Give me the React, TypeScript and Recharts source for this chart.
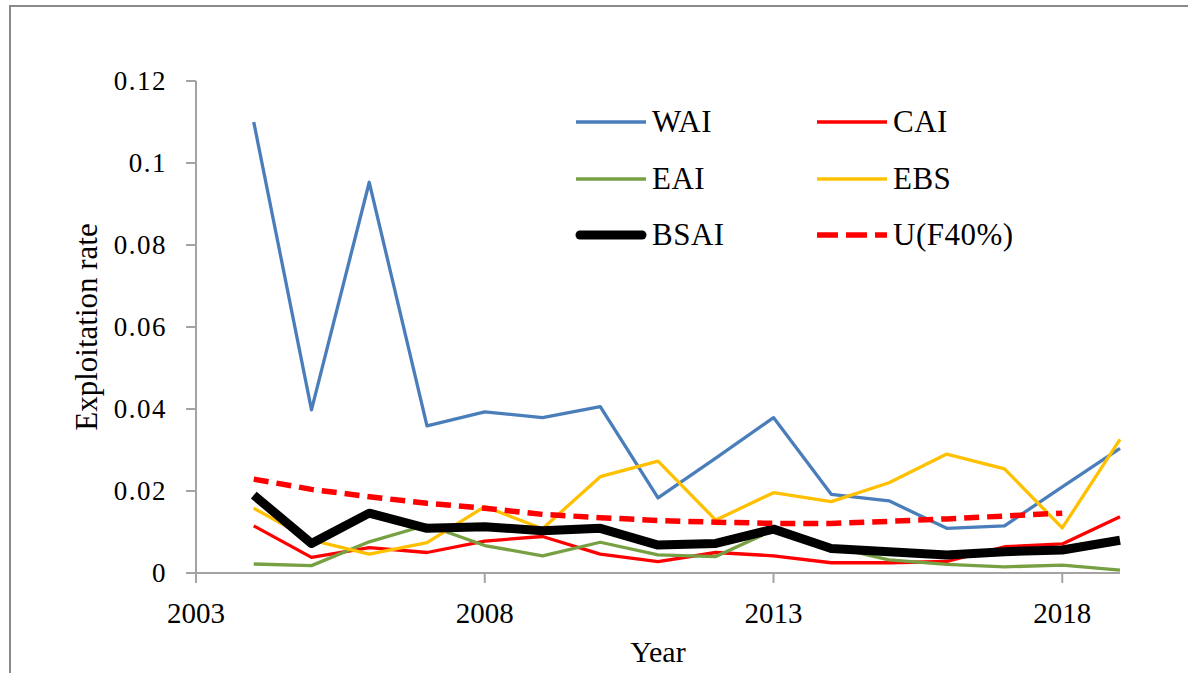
import { LineChart, Line, XAxis, YAxis, Legend } from 'recharts'

const YEARS = [2004, 2005, 2006, 2007, 2008, 2009, 2010, 2011, 2012, 2013, 2014, 2015, 2016, 2017, 2018, 2019]

const WAI = [0.110, 0.0398, 0.0953, 0.0359, 0.0393, 0.0379, 0.0406, 0.0183, 0.0280, 0.0379, 0.0192, 0.0176, 0.0109, 0.0115, 0.0210, 0.0304]
const CAI = [0.0115, 0.0038, 0.0062, 0.0050, 0.0078, 0.0089, 0.0046, 0.0028, 0.0050, 0.0042, 0.0025, 0.0025, 0.0028, 0.0064, 0.0071, 0.0137]
const EAI = [0.0022, 0.0018, 0.0076, 0.0117, 0.0067, 0.0042, 0.0075, 0.0044, 0.0040, 0.0105, 0.0064, 0.0032, 0.0021, 0.0015, 0.0019, 0.0007]
const EBS = [0.0158, 0.0080, 0.0046, 0.0074, 0.0162, 0.0108, 0.0235, 0.0273, 0.0129, 0.0196, 0.0174, 0.0220, 0.0290, 0.0254, 0.0110, 0.0326]
const BSAI = [0.0190, 0.0072, 0.0146, 0.0109, 0.0113, 0.0103, 0.0109, 0.0068, 0.0072, 0.0107, 0.0060, 0.0052, 0.0044, 0.0052, 0.0056, 0.0080]
const U_F40 = [0.0229, 0.0204, 0.0186, 0.0170, 0.0158, 0.0143, 0.0135, 0.0128, 0.0124, 0.0121, 0.0121, 0.0126, 0.0132, 0.0139, 0.0146, null]

const X_TICKS = [2003, 2008, 2013, 2018]
const Y_TICKS = [0, 0.02, 0.04, 0.06, 0.08, 0.1, 0.12]

const FONT = "'Liberation Serif', 'Times New Roman', serif"
const AXIS_GRAY = '#a3a3a3'

const SERIES = [
  { key: 'WAI', values: WAI, color: '#4a7ebb', width: 3.3, dash: undefined },
  { key: 'CAI', values: CAI, color: '#ff0000', width: 3.3, dash: undefined },
  { key: 'EAI', values: EAI, color: '#77a043', width: 3.3, dash: undefined },
  { key: 'EBS', values: EBS, color: '#ffc000', width: 3.3, dash: undefined },
  { key: 'BSAI', values: BSAI, color: '#000000', width: 9, dash: undefined },
  { key: 'U(F40%)', values: U_F40, color: '#ff0000', width: 5.5, dash: '15 8' },
]

const data = YEARS.map((year, i) => {
  const row: Record<string, number | null> = { year }
  SERIES.forEach((s) => { row[s.key] = s.values[i] })
  return row
})

const XTick = ({ x, y, payload }: any) => (
  <text x={x} y={y + 38} textAnchor="middle" fontSize={29} fontFamily={FONT} style={{ fontFamily: FONT }} fill="#000">
    {payload.value}
  </text>
)

const YTick = ({ x, y, payload }: any) => (
  <text x={x} y={y + 9} textAnchor="end" fontSize={27} fontFamily={FONT} style={{ fontFamily: FONT, letterSpacing: 1.5 }} fill="#000">
    {payload.value}
  </text>
)

const LegendBox = () => (
  <div style={{ position: 'relative', width: 470, height: 160, fontFamily: FONT }}>
    {SERIES.map((s, i) => {
      const col = i % 2
      const row = Math.floor(i / 2)
      const thick = s.width > 6
      return (
        <div
          key={s.key}
          style={{ position: 'absolute', left: col * 241, top: row * 56.5, height: 44, display: 'flex', alignItems: 'center' }}
        >
          <svg width={72} height={14} style={{ display: 'block' }}>
            <line
              x1={thick ? 5 : 1}
              y1={7}
              x2={thick ? 67 : 71}
              y2={7}
              stroke={s.color}
              strokeWidth={thick ? 9 : s.width}
              strokeDasharray={s.dash ? '21 8' : undefined}
              strokeLinecap={thick ? 'round' : 'butt'}
            />
          </svg>
          <span style={{ marginLeft: 5, fontSize: 31, fontFamily: FONT, color: '#000', lineHeight: '44px', letterSpacing: 0.5 }}>
            {s.key}
          </span>
        </div>
      )
    })}
  </div>
)

export default function App() {
  return (
    <div style={{ position: 'absolute', left: 0, top: 0, width: 1188, height: 673, overflow: 'hidden', background: '#fff', fontFamily: FONT }}>
      <div
        style={{
          position: 'absolute', left: 9, top: 5, width: 1300, height: 800,
          borderTop: '2px solid #8a8a8a', borderLeft: '2px solid #8a8a8a',
        }}
      />
      <div style={{ position: 'absolute', left: 0, top: 0 }}>
        <LineChart width={1188} height={673} data={data} margin={{ top: 81, right: 68, left: 96, bottom: 40 }}>
          <XAxis
            dataKey="year"
            type="number"
            domain={[2003, 2019]}
            ticks={X_TICKS}
            allowDecimals={false}
            height={60}
            stroke={AXIS_GRAY}
            strokeWidth={2}
            tickSize={10}
            tick={<XTick />}
            label={{
              content: ({ viewBox }: any) => (
                <text
                  x={viewBox.x + viewBox.width / 2}
                  y={viewBox.y + 89}
                  textAnchor="middle"
                  fontSize={30}
                  fontFamily={FONT}
                  fill="#000"
                >
                  Year
                </text>
              ),
            }}
          />
          <YAxis
            type="number"
            domain={[0, 0.12]}
            ticks={Y_TICKS}
            width={100}
            stroke={AXIS_GRAY}
            strokeWidth={2}
            tickSize={10}
            tickMargin={19}
            tick={<YTick />}
            label={{
              content: ({ viewBox }: any) => {
                const x = viewBox.x + 1
                const y = viewBox.y + viewBox.height / 2
                return (
                  <text
                    x={x}
                    y={y}
                    transform={`rotate(-90 ${x} ${y})`}
                    textAnchor="middle"
                    fontSize={31}
                    fontFamily={FONT}
                    fill="#000"
                  >
                    Exploitation rate
                  </text>
                )
              },
            }}
          />
          <Legend
            layout="horizontal"
            verticalAlign="middle"
            align="center"
            content={() => <LegendBox />}
            wrapperStyle={{ left: 575, top: 100, width: 470, height: 160 }}
          />
          {SERIES.map((s) => (
            <Line
              key={s.key}
              type="linear"
              dataKey={s.key}
              stroke={s.color}
              strokeWidth={s.width}
              strokeDasharray={s.dash}
              strokeLinejoin="round"
              dot={false}
              activeDot={false}
              connectNulls={false}
              isAnimationActive={false}
            />
          ))}
        </LineChart>
      </div>
    </div>
  )
}
